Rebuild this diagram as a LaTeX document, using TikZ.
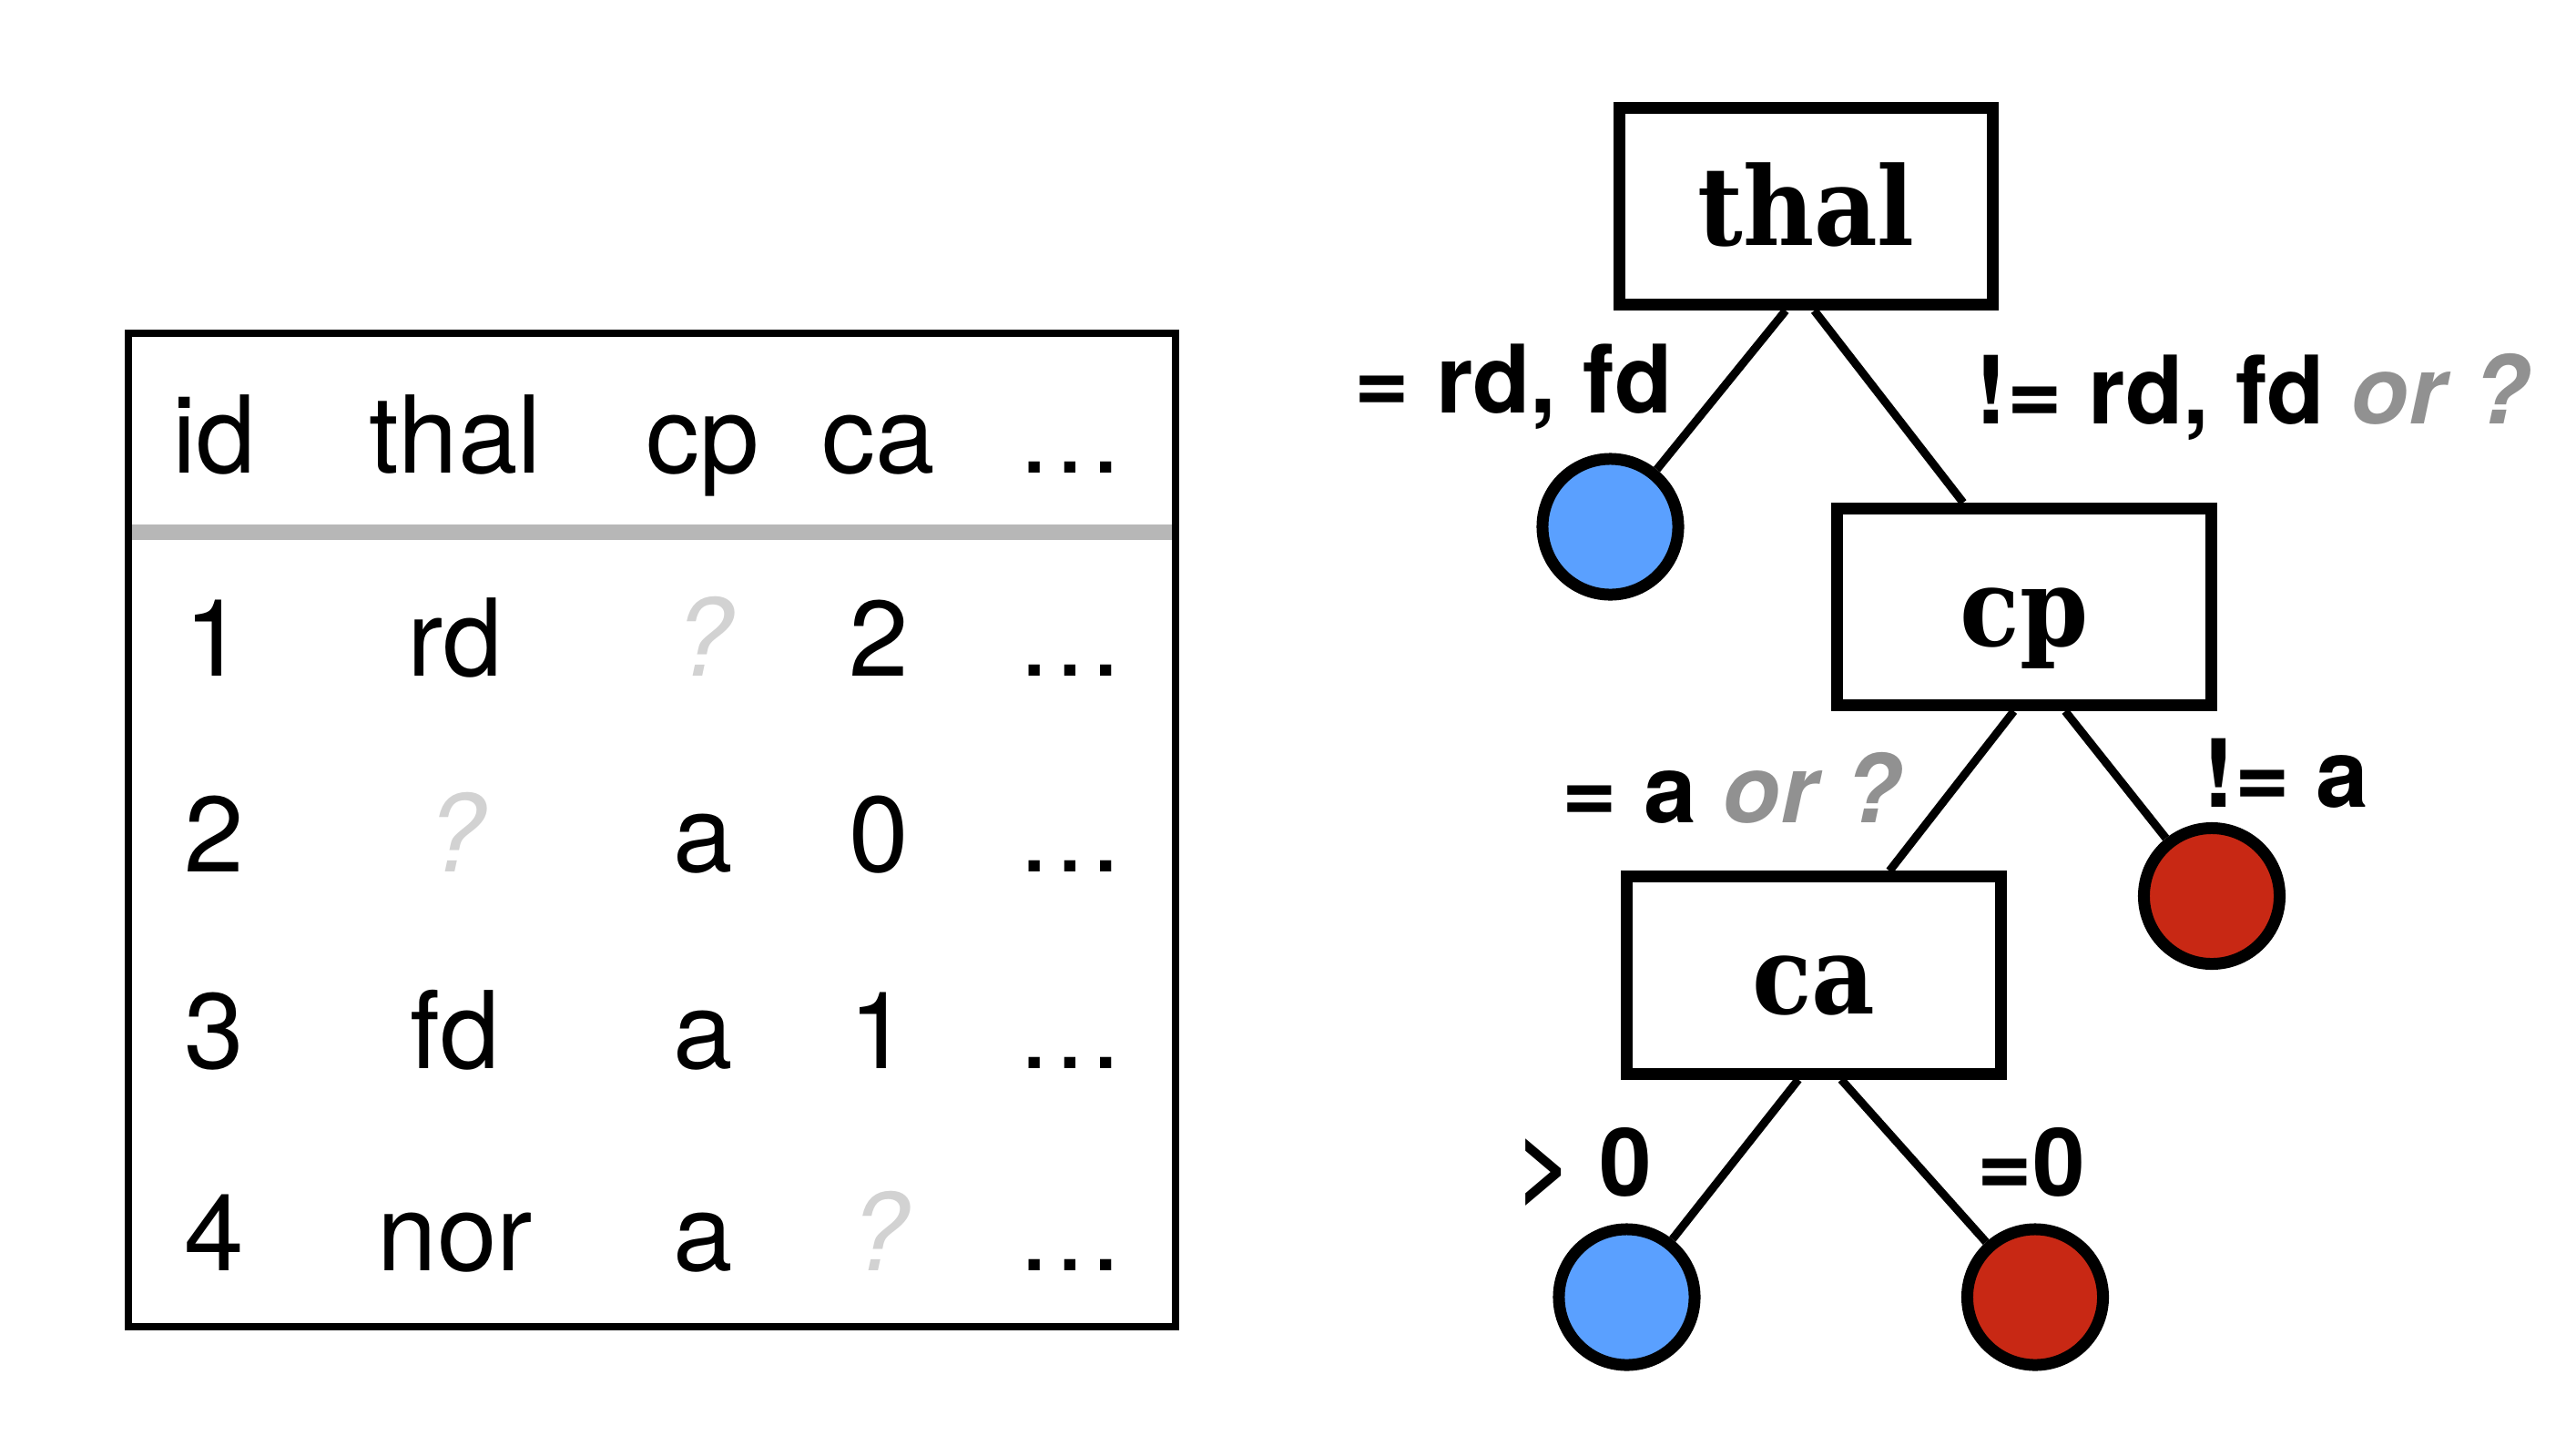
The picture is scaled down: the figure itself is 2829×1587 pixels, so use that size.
\documentclass[tikz,border=0pt]{standalone}
\usepackage{fontspec}
\setmainfont{TeX Gyre Heros}
\newfontfamily\splitfont{DejaVu Serif Condensed}
\definecolor{leafblue}{RGB}{90,160,255}
\definecolor{leafred}{RGB}{200,40,20}
\definecolor{orgray}{RGB}{145,145,145}
\definecolor{missgray}{RGB}{210,210,210}
\definecolor{rulegray}{RGB}{183,183,183}
\newcommand{\miss}{\textcolor{missgray}{\itshape ?}}
\newcommand{\orq}{\textcolor{orgray}{\itshape or ?}}

\begin{document}
\begin{tikzpicture}[
    x=0.01cm, y=-0.01cm,
    cell/.style={anchor=base, inner sep=0pt, font=\fontsize{33.5}{40}\selectfont},
    split/.style={draw, line width=0.13cm, fill=white, inner sep=0pt,
      minimum width=4.1cm, minimum height=2.16cm, text height=0.85cm, text depth=0pt,
      font=\splitfont\bfseries\fontsize{34}{40}\selectfont},
    leaf/.style={circle, draw, line width=0.13cm, minimum size=1.49cm, inner sep=0pt},
    cond/.style={anchor=base west, inner sep=0pt, font=\bfseries\fontsize{29.5}{35}\selectfont},
    branch/.style={line width=0.09cm}]
  \useasboundingbox (0,0) rectangle (2829,1587);

  \draw[line width=0.08cm] (140.6,365.8) rectangle (1290.6,1457);
  \draw[rulegray, line width=0.17cm] (144.6,584.4) -- (1286.6,584.4);

  \node[cell] (hid)   at (235,519)  {id};
  \node[cell] (hthal) at (500,519)  {thal};
  \node[cell] (hcp)   at (772,519)  {cp};
  \node[cell] (hca)   at (965,519)  {ca};
  \node[cell] (hmore) at (1175,519) {\ldots};

  \node[cell] (id1)   at (235,742)  {1};
  \node[cell] (thal1) at (500,742)  {rd};
  \node[cell] (cp1)   at (772,742)  {\miss};
  \node[cell] (ca1)   at (965,742)  {2};
  \node[cell] (more1) at (1175,742) {\ldots};

  \node[cell] (id2)   at (235,957)  {2};
  \node[cell] (thal2) at (500,957)  {\miss};
  \node[cell] (cp2)   at (772,957)  {a};
  \node[cell] (ca2)   at (965,957)  {0};
  \node[cell] (more2) at (1175,957) {\ldots};

  \node[cell] (id3)   at (235,1173)  {3};
  \node[cell] (thal3) at (500,1173)  {fd};
  \node[cell] (cp3)   at (772,1173)  {a};
  \node[cell] (ca3)   at (965,1173)  {1};
  \node[cell] (more3) at (1175,1173) {\ldots};

  \node[cell] (id4)   at (235,1395)  {4};
  \node[cell] (thal4) at (500,1395)  {nor};
  \node[cell] (cp4)   at (772,1395)  {a};
  \node[cell] (ca4)   at (965,1395)  {\miss};
  \node[cell] (more4) at (1175,1395) {\ldots};

  \node[split] (thal) at (1983.5,226.5) {thal};
  \node[split] (cp)   at (2223,666.5)   {cp};
  \node[split] (ca)   at (1992,1071)    {ca};
  \node[leaf, fill=leafblue] (yes1) at (1768.5,578.5) {};
  \node[leaf, fill=leafred]  (no1)  at (2429,984)     {};
  \node[leaf, fill=leafblue] (yes2) at (1786.5,1424.5) {};
  \node[leaf, fill=leafred]  (no2)  at (2235,1424.5)  {};

  \draw[branch] ([xshift=-0.225cm]thal.south) -- (yes1);
  \draw[branch] ([xshift=0.09cm]thal.south) -- ([xshift=-0.67cm]cp.north);
  \draw[branch] ([xshift=-0.114cm]cp.south) -- ([xshift=0.83cm]ca.north);
  \draw[branch] ([xshift=0.45cm]cp.south) -- (no1);
  \draw[branch] ([xshift=-0.17cm]ca.south) -- (yes2);
  \draw[branch] ([xshift=0.3cm]ca.south) -- (no2);

  \node[cond] (thalyes) at (1487,453)  {= rd, fd};
  \node[cond] (thalno)  at (2169,465)  {!= rd, fd \orq};
  \node[cond] (cpyes)   at (1715,903)  {= a \orq};
  \node[cond] (cpno)    at (2419,886)  {!= a};
  \node[cond] (cayes)   at (1666,1313) {> 0};
  \node[cond] (cano)    at (2171,1313) {=0};
\end{tikzpicture}
\end{document}
